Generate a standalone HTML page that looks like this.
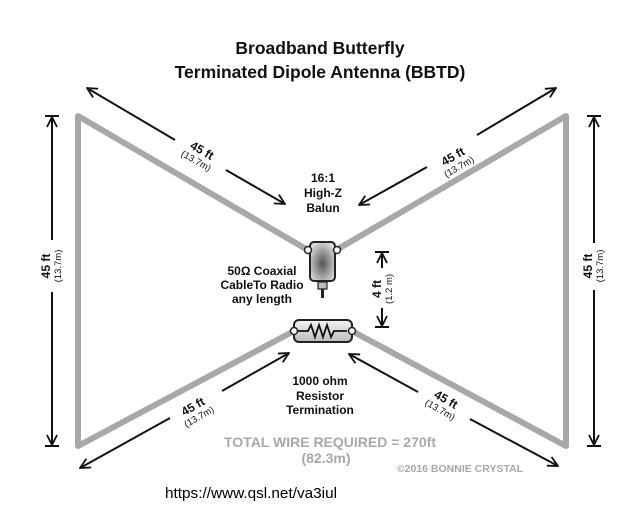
<!DOCTYPE html>
<html><head><style>
body{margin:0;background:#fff}
svg{display:block;font-family:"Liberation Sans",Arial,sans-serif}
</style></head><body>
<svg width="640" height="512" viewBox="0 0 640 512">
<defs>
<marker id="a" viewBox="0 0 12 12" refX="11" refY="6" markerWidth="12" markerHeight="12" markerUnits="userSpaceOnUse" orient="auto">
<path d="M1,1 L11,6 L1,11" fill="none" stroke="#111" stroke-width="1.8"/>
</marker>
<radialGradient id="g" cx="50%" cy="55%" r="60%"><stop offset="0" stop-color="#555"/><stop offset="1" stop-color="#ddd"/></radialGradient>
<linearGradient id="r" x1="0" y1="0" x2="0" y2="1"><stop offset="0" stop-color="#f4f4f4"/><stop offset="1" stop-color="#bbb"/></linearGradient>
</defs>
<text x="320" y="54" text-anchor="middle" font-size="17.5" font-weight="bold" fill="#111">Broadband Butterfly</text>
<text x="320" y="78" text-anchor="middle" font-size="17.5" font-weight="bold" fill="#111">Terminated Dipole Antenna (BBTD)</text>

<g fill="none" stroke="#a8a8a8" stroke-width="6" stroke-linejoin="round">
<polyline points="306,249 78,116 78,446 294,331"/>
<polyline points="338,249 566,116 566,446 352,331"/>
</g>

<!-- balun -->
<rect x="310" y="242" width="25" height="39" rx="4" fill="url(#g)" stroke="#222" stroke-width="2"/>
<circle cx="308" cy="250" r="3.5" fill="#fff" stroke="#222" stroke-width="1.5"/>
<circle cx="337" cy="250" r="3.5" fill="#fff" stroke="#222" stroke-width="1.5"/>
<rect x="318" y="282" width="9" height="7" fill="#bbb" stroke="#222" stroke-width="1.2"/>
<line x1="322.5" y1="289" x2="322.5" y2="298" stroke="#222" stroke-width="3"/>

<!-- resistor -->
<rect x="294" y="320" width="58" height="22" rx="5" fill="url(#r)" stroke="#222" stroke-width="2"/>
<circle cx="294" cy="331" r="3.5" fill="#fff" stroke="#222" stroke-width="1.5"/>
<circle cx="352" cy="331" r="3.5" fill="#fff" stroke="#222" stroke-width="1.5"/>
<polyline points="298,331 308,331 311,325 315,337 319,325 323,337 327,325 331,337 334,331 347,331" fill="none" stroke="#111" stroke-width="1.8"/>

<g stroke="#111" stroke-width="2" fill="none">
<line x1="175" y1="140" x2="87" y2="88" marker-end="url(#a)"/>
<line x1="226" y1="170" x2="285" y2="204" marker-end="url(#a)"/>
<line x1="477" y1="135" x2="556" y2="88" marker-end="url(#a)"/>
<line x1="427" y1="167" x2="359" y2="205" marker-end="url(#a)"/>
<line x1="222" y1="391" x2="289" y2="353" marker-end="url(#a)"/>
<line x1="170" y1="418" x2="80" y2="468" marker-end="url(#a)"/>
<line x1="418" y1="392" x2="349" y2="354" marker-end="url(#a)"/>
<line x1="470" y1="419" x2="558" y2="466" marker-end="url(#a)"/>
<line x1="52" y1="240" x2="52" y2="117" marker-end="url(#a)"/>
<line x1="52" y1="292" x2="52" y2="445" marker-end="url(#a)"/>
<line x1="594" y1="243" x2="594" y2="117" marker-end="url(#a)"/>
<line x1="594" y1="290" x2="594" y2="445" marker-end="url(#a)"/>
<line x1="382" y1="268" x2="382" y2="253" marker-end="url(#a)"/>
<line x1="382" y1="308" x2="382" y2="326" marker-end="url(#a)"/>
<line x1="45" y1="116" x2="59" y2="116"/>
<line x1="45" y1="446" x2="59" y2="446"/>
<line x1="587" y1="116" x2="601" y2="116"/>
<line x1="587" y1="446" x2="601" y2="446"/>
<line x1="375" y1="252" x2="389" y2="252"/>
<line x1="375" y1="327" x2="389" y2="327"/>
</g>

<g fill="#111" font-weight="bold" text-anchor="middle">
<g transform="translate(200,154) rotate(30)"><text x="0" y="0" font-size="12">45 ft</text><text x="0" y="11" font-size="9.5" font-weight="normal">(13.7m)</text></g>
<g transform="translate(455,160) rotate(-30)"><text x="0" y="0" font-size="12">45 ft</text><text x="0" y="11" font-size="9.5" font-weight="normal">(13.7m)</text></g>
<g transform="translate(195,410) rotate(-30)"><text x="0" y="0" font-size="12">45 ft</text><text x="0" y="11" font-size="9.5" font-weight="normal">(13.7m)</text></g>
<g transform="translate(444,403) rotate(30)"><text x="0" y="0" font-size="12">45 ft</text><text x="0" y="11" font-size="9.5" font-weight="normal">(13.7m)</text></g>
<g transform="translate(50,266) rotate(-90)"><text x="0" y="0" font-size="12">45 ft</text><text x="0" y="11" font-size="9.5" font-weight="normal">(13.7m)</text></g>
<g transform="translate(592,266) rotate(-90)"><text x="0" y="0" font-size="12">45 ft</text><text x="0" y="11" font-size="9.5" font-weight="normal">(13.7m)</text></g>
<g transform="translate(381,289) rotate(-90)"><text x="0" y="0" font-size="12">4 ft</text><text x="0" y="11" font-size="9.5" font-weight="normal">(1.2 m)</text></g>
<text x="323" y="182" font-size="12">16:1</text>
<text x="323" y="197" font-size="12">High-Z</text>
<text x="323" y="212" font-size="12">Balun</text>
<text x="262" y="275" font-size="12">50Ω Coaxial</text>
<text x="262" y="289" font-size="12">CableTo Radio</text>
<text x="262" y="303" font-size="12">any length</text>
<text x="320" y="385" font-size="12">1000 ohm</text>
<text x="320" y="400" font-size="12">Resistor</text>
<text x="320" y="414" font-size="12">Termination</text>
<text x="330" y="447" font-size="14" fill="#a8a8a8">TOTAL WIRE REQUIRED = 270ft</text>
<text x="326" y="463" font-size="14" fill="#a8a8a8">(82.3m)</text>
<text x="460" y="472" font-size="10.5" fill="#a8a8a8">©2016 BONNIE CRYSTAL</text>
</g>
<text x="165" y="498" font-size="14.5" fill="#000" textLength="172" lengthAdjust="spacingAndGlyphs">https://www.qsl.net/va3iul</text>
</svg>
</body></html>
